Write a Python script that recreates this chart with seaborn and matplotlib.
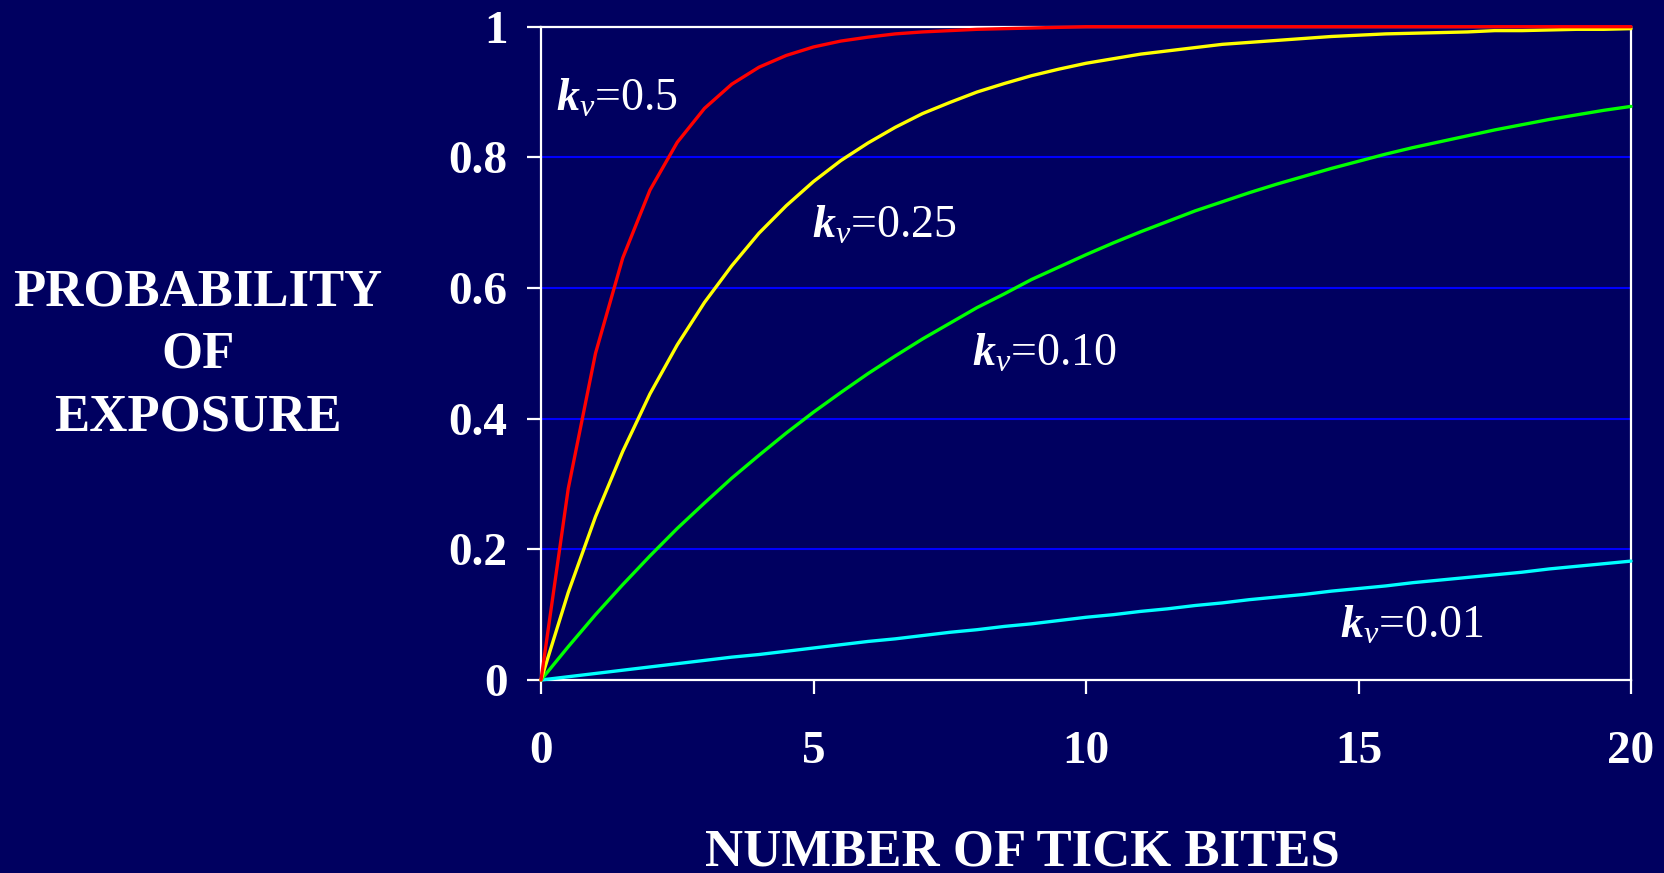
import numpy as np
import pandas as pd
import matplotlib
matplotlib.use("Agg")
import matplotlib.pyplot as plt
import seaborn as sns

# number of tick bites (sampled every half bite)
bites = [i * 0.5 for i in range(41)]

# probability of exposure
p_050 = [0, 0.293, 0.5, 0.646, 0.75, 0.823, 0.875, 0.912, 0.938, 0.956,
         0.969, 0.978, 0.984, 0.989, 0.992, 0.994, 0.996, 0.997, 0.998, 0.999,
         1.0, 1.0, 1.0, 1.0, 1.0, 1.0, 1.0, 1.0, 1.0, 1.0,
         1.0, 1.0, 1.0, 1.0, 1.0, 1.0, 1.0, 1.0, 1.0, 1.0, 1.0]
p_025 = [0, 0.134, 0.25, 0.350, 0.438, 0.513, 0.578, 0.634, 0.684, 0.726,
         0.763, 0.795, 0.822, 0.846, 0.867, 0.884, 0.900, 0.913, 0.925, 0.935,
         0.944, 0.951, 0.958, 0.963, 0.968, 0.973, 0.976, 0.979, 0.982, 0.985,
         0.987, 0.989, 0.990, 0.991, 0.992, 0.994, 0.994, 0.995, 0.996, 0.996, 0.997]
p_010 = [0, 0.051, 0.1, 0.146, 0.19, 0.232, 0.271, 0.309, 0.344, 0.378,
         0.410, 0.440, 0.469, 0.496, 0.522, 0.546, 0.570, 0.591, 0.613, 0.632,
         0.651, 0.669, 0.686, 0.702, 0.718, 0.732, 0.746, 0.759, 0.771, 0.783,
         0.794, 0.805, 0.815, 0.824, 0.833, 0.842, 0.850, 0.858, 0.865, 0.872, 0.878]
p_001 = [0, 0.005, 0.01, 0.015, 0.020, 0.025, 0.030, 0.035, 0.039, 0.044,
         0.049, 0.054, 0.059, 0.063, 0.068, 0.073, 0.077, 0.082, 0.086, 0.091,
         0.096, 0.100, 0.105, 0.109, 0.114, 0.118, 0.123, 0.127, 0.131, 0.136,
         0.140, 0.144, 0.149, 0.153, 0.157, 0.161, 0.165, 0.170, 0.174, 0.178, 0.182]

series_names = ['0.01', '0.10', '0.25', '0.5']
series_vals = [p_001, p_010, p_025, p_050]
colors = {'0.5': '#ff0000', '0.25': '#ffff00', '0.10': '#00ff00', '0.01': '#00ffff'}

# label positions (data coords) for each curve
label_x = {'0.5': 0.28, '0.25': 4.97, '0.10': 7.9, '0.01': 14.66}
label_y = {'0.5': 0.872, '0.25': 0.677, '0.10': 0.481, '0.01': 0.064}

rows = []
for name, vals in zip(series_names, series_vals):
    for b, p in zip(bites, vals):
        rows.append({'bites': b, 'prob': p, 'kv': name})
df = pd.DataFrame(rows)

bg = '#000060'
sns.set_theme(style='white')
plt.rcParams['font.family'] = ['Liberation Serif', 'DejaVu Serif']
plt.rcParams['mathtext.fontset'] = 'custom'
plt.rcParams['mathtext.rm'] = 'Liberation Serif'
plt.rcParams['mathtext.it'] = 'Liberation Serif:italic'
plt.rcParams['mathtext.bf'] = 'Liberation Serif:bold'
plt.rcParams['mathtext.bfit'] = 'Liberation Serif:italic:bold'

fig = plt.figure(figsize=(16.64, 8.73), dpi=100, facecolor=bg)
ax = fig.add_axes([541 / 1664, 1 - 680 / 873, 1090 / 1664, 653.3 / 873])
ax.set_facecolor(bg)

sns.lineplot(data=df, x='bites', y='prob', hue='kv', palette=colors,
             hue_order=series_names, linewidth=2.4, legend=False, ax=ax,
             zorder=3, clip_on=False)

ax.set_xlim(0, 20)
ax.set_ylim(0, 1)
ax.set_xticks([0, 5, 10, 15, 20])
ax.set_yticks([0, 0.2, 0.4, 0.6, 0.8, 1])
ax.set_yticklabels(['0', '0.2', '0.4', '0.6', '0.8', '1'])
ax.yaxis.grid(True, color='#0000ff', linewidth=1.5)
ax.xaxis.grid(False)
ax.set_axisbelow(True)
for s in ax.spines.values():
    s.set_color('white')
    s.set_linewidth(1.6)
    s.set_visible(True)

ax.tick_params(axis='both', which='major', direction='out', length=10, width=1.6,
               color='white', labelcolor='white', bottom=True, left=True)
ax.tick_params(axis='y', pad=14, labelsize=34)
ax.tick_params(axis='x', pad=27, labelsize=34)
for lab in ax.get_xticklabels() + ax.get_yticklabels():
    lab.set_fontweight('bold')

ax.set_xlabel('')
ax.set_ylabel('')

for name in series_names:
    ax.text(label_x[name], label_y[name],
            r'$\mathbfit{k}_{\mathit{v}}$' + '=' + name,
            color='white', fontsize=33, ha='left', va='baseline')

fig.text(198 / 1664, 1 - 355 / 873, 'PROBABILITY\nOF\nEXPOSURE', color='white',
         fontsize=38, fontweight='bold', ha='center', va='center',
         multialignment='center', linespacing=1.38)
fig.text(1022 / 1664, 1 - 866 / 873, 'NUMBER OF TICK BITES', color='white',
         fontsize=38, fontweight='bold', ha='center', va='baseline')

fig.savefig('out.png', dpi=100, facecolor=bg)
